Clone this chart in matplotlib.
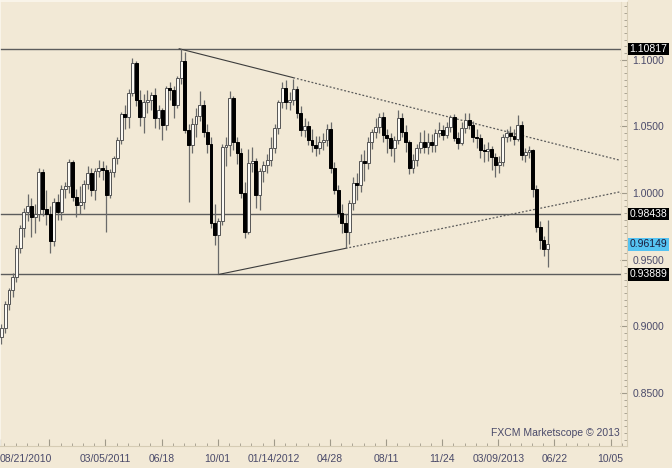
import matplotlib
matplotlib.use('Agg')
import matplotlib.pyplot as plt
import numpy as np
from matplotlib.ticker import MultipleLocator, FixedLocator

# weekly candles, Aug 2010 .. Jun 2013
opens = [0.8920, 0.8990, 0.9170, 0.9270, 0.9370, 0.9590, 0.9740, 0.9860, 0.9900, 0.9820,
         0.9840, 1.0160, 0.9880, 0.9840, 0.9640, 0.9930, 0.9860, 1.0030, 1.0050, 1.0235,
         0.9970, 0.9910, 0.9930, 1.0070, 1.0150, 1.0020, 1.0165, 1.0190, 1.0170, 0.9985,
         1.0160, 1.0260, 1.0400, 1.0590, 1.0570, 1.0750, 1.0975, 1.0700, 1.0570, 1.0680,
         1.0700, 1.0735, 1.0560, 1.0620, 1.0510, 1.0790, 1.0770, 1.0660, 1.0860, 1.0990,
         1.0470, 1.0360, 1.0520, 1.0580, 1.0660, 1.0460, 1.0370, 0.9775, 0.9685, 0.9790,
         1.0345, 1.0360, 1.0710, 1.0380, 1.0300, 1.0000, 0.9710, 1.0225, 1.0240, 0.9985,
         1.0165, 1.0210, 1.0250, 1.0340, 1.0490, 1.0680, 1.0785, 1.0680, 1.0700, 1.0780,
         1.0600, 1.0470, 1.0500, 1.0400, 1.0360, 1.0340, 1.0380, 1.0400, 1.0480, 1.0190,
         1.0020, 0.9850, 0.9775, 0.9710, 0.9925, 1.0075, 1.0060, 1.0240, 1.0225, 1.0383,
         1.0458, 1.0495, 1.0570, 1.0435, 1.0413, 1.0338, 1.0398, 1.0563, 1.0458, 1.0383,
         1.0188, 1.0248, 1.0338, 1.0383, 1.0345, 1.0383, 1.0360, 1.0450, 1.0473, 1.0435,
         1.0495, 1.0570, 1.0413, 1.0375, 1.0488, 1.0548, 1.0510, 1.0420, 1.0413, 1.0323,
         1.0315, 1.0330, 1.0270, 1.0210, 1.0233, 1.0420, 1.0450, 1.0428, 1.0405, 1.0510,
         1.0285, 1.0308, 1.0323, 1.0030, 0.9745, 0.9648, 0.9580]
highs = [0.9020, 0.9190, 0.9290, 0.9400, 0.9610, 0.9760, 0.9890, 0.9995, 0.9960, 0.9920,
         1.0185, 1.0180, 1.0020, 0.9900, 0.9960, 0.9990, 1.0060, 1.0080, 1.0255, 1.0250,
         1.0030, 1.0050, 1.0100, 1.0200, 1.0190, 1.0190, 1.0250, 1.0240, 1.0210, 1.0180,
         1.0280, 1.0420, 1.0610, 1.0660, 1.0780, 1.1015, 1.0990, 1.0770, 1.0740, 1.0770,
         1.0760, 1.0790, 1.0660, 1.0640, 1.0800, 1.0830, 1.0800, 1.0880, 1.1082, 1.1060,
         1.0520, 1.0560, 1.0640, 1.0765, 1.0700, 1.0520, 1.0420, 0.9920, 0.9810, 1.0370,
         1.0420, 1.0765, 1.0730, 1.0420, 1.0340, 1.0080, 1.0330, 1.0345, 1.0260, 1.0190,
         1.0240, 1.0290, 1.0420, 1.0520, 1.0700, 1.0830, 1.0848, 1.0760, 1.0856, 1.0800,
         1.0650, 1.0560, 1.0540, 1.0480, 1.0430, 1.0430, 1.0450, 1.0520, 1.0530, 1.0230,
         1.0060, 0.9920, 0.9840, 0.9950, 1.0120, 1.0150, 1.0290, 1.0320, 1.0420, 1.0480,
         1.0560, 1.0600, 1.0610, 1.0480, 1.0450, 1.0430, 1.0625, 1.0600, 1.0510, 1.0400,
         1.0290, 1.0370, 1.0460, 1.0470, 1.0450, 1.0440, 1.0480, 1.0530, 1.0510, 1.0530,
         1.0585, 1.0590, 1.0460, 1.0530, 1.0600, 1.0600, 1.0540, 1.0480, 1.0440, 1.0370,
         1.0380, 1.0350, 1.0300, 1.0280, 1.0440, 1.0480, 1.0500, 1.0480, 1.0585, 1.0540,
         1.0340, 1.0350, 1.0330, 1.0060, 0.9790, 0.9680, 0.9798]
lows = [0.8870, 0.8950, 0.9120, 0.9220, 0.9330, 0.9550, 0.9670, 0.9790, 0.9670, 0.9700,
        0.9790, 0.9830, 0.9760, 0.9550, 0.9600, 0.9800, 0.9800, 0.9960, 1.0000, 0.9940,
        0.9820, 0.9840, 0.9880, 1.0030, 0.9980, 0.9950, 1.0120, 1.0100, 0.9706, 0.9960,
        1.0120, 1.0220, 1.0370, 1.0480, 1.0490, 1.0730, 1.0650, 1.0500, 1.0450, 1.0600,
        1.0620, 1.0490, 1.0480, 1.0400, 1.0470, 1.0700, 1.0560, 1.0640, 1.0820, 1.0450,
        0.9935, 1.0300, 1.0420, 1.0540, 1.0420, 1.0300, 0.9740, 0.9610, 0.93889, 0.9760,
        1.0200, 1.0280, 1.0320, 1.0220, 0.9960, 0.9663, 0.9690, 1.0160, 0.9890, 0.9870,
        1.0080, 1.0150, 1.0200, 1.0300, 1.0440, 1.0640, 1.0630, 1.0620, 1.0660, 1.0560,
        1.0430, 1.0420, 1.0360, 1.0310, 1.0280, 1.0290, 1.0320, 1.0350, 1.0150, 0.9990,
        0.9820, 0.9700, 0.9585, 0.9620, 0.9870, 0.9950, 1.0010, 1.0090, 1.0180, 1.0330,
        1.0410, 1.0450, 1.0380, 1.0300, 1.0280, 1.0230, 1.0370, 1.0420, 1.0310, 1.0140,
        1.0150, 1.0200, 1.0300, 1.0300, 1.0290, 1.0310, 1.0310, 1.0420, 1.0400, 1.0410,
        1.0460, 1.0390, 1.0330, 1.0360, 1.0450, 1.0480, 1.0380, 1.0340, 1.0260, 1.0230,
        1.0240, 1.0170, 1.0120, 1.0150, 1.0200, 1.0380, 1.0390, 1.0360, 1.0390, 1.0250,
        1.0230, 1.0260, 0.9970, 0.9710, 0.9580, 0.9530, 0.9445]
closes = [0.8990, 0.9170, 0.9270, 0.9370, 0.9590, 0.9740, 0.9860, 0.9900, 0.9820, 0.9840,
          1.0160, 0.9880, 0.9840, 0.9640, 0.9930, 0.9860, 1.0030, 1.0050, 1.0235, 0.9970,
          0.9910, 0.9930, 1.0070, 1.0150, 1.0020, 1.0165, 1.0190, 1.0170, 0.9985, 1.0160,
          1.0260, 1.0400, 1.0590, 1.0570, 1.0750, 1.0975, 1.0700, 1.0570, 1.0680, 1.0700,
          1.0735, 1.0560, 1.0620, 1.0510, 1.0790, 1.0770, 1.0660, 1.0860, 1.0990, 1.0470,
          1.0360, 1.0520, 1.0580, 1.0660, 1.0460, 1.0370, 0.9775, 0.9685, 0.9790, 1.0345,
          1.0360, 1.0710, 1.0380, 1.0300, 1.0000, 0.9710, 1.0225, 1.0240, 0.9985, 1.0165,
          1.0210, 1.0250, 1.0340, 1.0490, 1.0680, 1.0785, 1.0680, 1.0700, 1.0780, 1.0600,
          1.0470, 1.0500, 1.0400, 1.0360, 1.0340, 1.0380, 1.0400, 1.0480, 1.0190, 1.0020,
          0.9850, 0.9775, 0.9710, 0.9925, 1.0075, 1.0060, 1.0240, 1.0225, 1.0383, 1.0458,
          1.0495, 1.0570, 1.0435, 1.0413, 1.0338, 1.0398, 1.0563, 1.0458, 1.0383, 1.0188,
          1.0248, 1.0338, 1.0383, 1.0345, 1.0383, 1.0360, 1.0450, 1.0473, 1.0435, 1.0495,
          1.0570, 1.0413, 1.0375, 1.0488, 1.0548, 1.0510, 1.0420, 1.0413, 1.0323, 1.0315,
          1.0330, 1.0270, 1.0210, 1.0233, 1.0420, 1.0450, 1.0428, 1.0405, 1.0510, 1.0285,
          1.0308, 1.0323, 1.0030, 0.9745, 0.9648, 0.9580, 0.96149]

levels = [1.10817, 0.98438, 0.93889]
last_price = 0.96149

# trendlines: (week index, price) anchors
upper_line = [(47.5, 1.1082), (78.0, 1.0865), (165.4, 1.0245)]
lower_line = [(58.0, 0.93889), (92.0, 0.9585), (165.4, 1.0009)]

date_labels = ['08/21/2010', '', '03/05/2011', '06/18', '10/01', '01/14/2012', '04/28',
               '08/11', '11/24', '03/09/2013', '06/22', '10/05']
date_pos = [-0.4, 12.8, 27.8, 42.8, 57.8, 72.8, 87.8, 102.8, 117.8, 132.8, 147.8, 162.8]

bg = '#f2e9d6'
txt = '#4a4a6a'

fig = plt.figure(figsize=(6.72, 4.68), dpi=100, facecolor=bg)
ax = fig.add_axes([0, 22 / 468, 627 / 672, 445 / 468], facecolor=bg)

x = np.arange(len(closes))
o = np.array(opens)
c = np.array(closes)
up = c >= o

# wicks
ax.vlines(x, lows, highs, color='#6a6a6a', lw=0.9, zorder=2)
# bodies
ax.bar(x[up], (c - o)[up], bottom=o[up], width=0.78, facecolor='#fcfaf4',
       edgecolor='#555555', linewidth=0.7, zorder=3)
ax.bar(x[~up], (c - o)[~up], bottom=o[~up], width=0.78, facecolor='black',
       edgecolor='black', linewidth=0.7, zorder=3)

x_end = 165.4
for lv in levels:
    ax.plot([-0.4, x_end], [lv, lv], color='#5c5c5c', lw=1.0, zorder=1)

for pts in (upper_line, lower_line):
    (x0, y0), (x1, y1), (x2, y2) = pts
    ax.plot([x0, x1], [y0, y1], color='#3c3c3c', lw=0.8, zorder=1)
    ax.plot([x1, x2], [y1, y2], color='#5a5a5a', lw=0.9,
            linestyle=(0, (1.5, 1.5)), zorder=1)

ax.set_xlim(-0.4, 167.2)
ax.set_ylim(0.81025, 1.144)

# right price axis
ax.yaxis.tick_right()
ax.yaxis.set_minor_locator(MultipleLocator(0.005))
ax.set_yticks([0.85, 0.90, 0.95, 1.00, 1.05, 1.10])
ax.set_yticklabels(['0.8500', '0.9000', '0.9500', '1.0000', '1.0500', '1.1000'])
ax.tick_params(axis='y', which='major', direction='in', length=5, color='#a09a8a',
               labelsize=7.5, labelcolor=txt, pad=4)
ax.tick_params(axis='y', which='minor', direction='in', length=2.5, color='#a09a8a')

# bottom date axis
ax.xaxis.set_major_locator(FixedLocator(date_pos))
ax.set_xticklabels(date_labels)
ax.xaxis.set_minor_locator(FixedLocator(np.arange(0.8, 167, 3)))
ax.tick_params(axis='x', which='major', direction='in', length=5, color='#a09a8a',
               labelsize=7.5, labelcolor=txt, pad=6)
ax.tick_params(axis='x', which='minor', direction='in', length=2.5, color='#a09a8a')
for lab in ax.get_xticklabels() + ax.get_yticklabels():
    lab.set_family('Liberation Sans')
ax.get_xticklabels()[0].set_ha('left')

for side in ('top', 'left'):
    ax.spines[side].set_color('#fbf7ee')
    ax.spines[side].set_linewidth(1.2)
for side in ('right', 'bottom'):
    ax.spines[side].set_color('#d6ccb4')
    ax.spines[side].set_linewidth(0.8)
ax.axvline(165.6, color='#e6dcc6', lw=0.8)

# price boxes on the right
ytr = ax.get_yaxis_transform()
for lv in levels:
    ax.text(1.004, lv, '%.5f' % lv, transform=ytr, ha='left', va='center',
            fontsize=7.5, color='white', family='Liberation Sans',
            bbox=dict(boxstyle='square,pad=0.12', fc='black', ec='none'))
ax.text(1.004, last_price, '%.5f' % last_price, transform=ytr, ha='left', va='center',
        fontsize=7.5, color='#1a1a3a', family='Liberation Sans',
        bbox=dict(boxstyle='square,pad=0.12', fc='#55c3f2', ec='none'))

ax.text(620 / 627, 0.018, 'FXCM Marketscope \u00a9 2013', transform=ax.transAxes,
        ha='right', va='bottom', fontsize=7.5, color=txt, family='Liberation Sans')

fig.savefig('out.png', dpi=100, facecolor=bg)
